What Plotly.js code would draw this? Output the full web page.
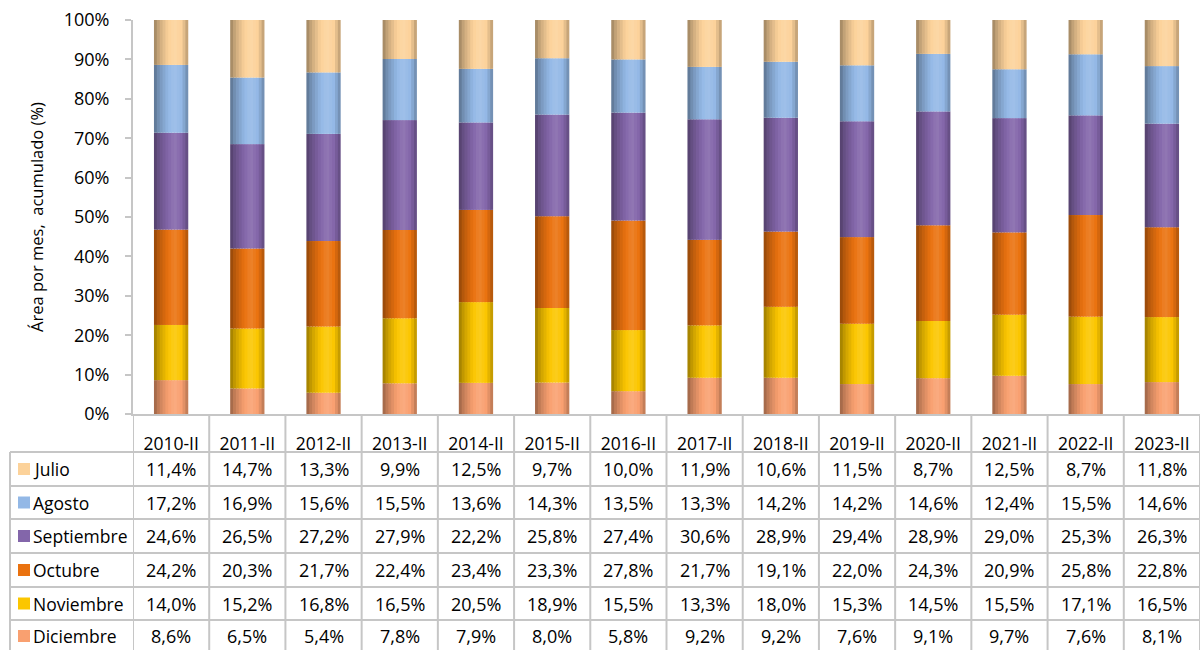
<!DOCTYPE html>
<html>
<head>
<meta charset="utf-8">
<script src="https://cdn.plot.ly/plotly-3.0.1.min.js"></script>
<style>html,body{margin:0;padding:0;background:#fff;}#chart{width:1204px;height:650px;}</style>
</head>
<body>
<div id="chart"></div>
<script>
const categories = ['2010-II','2011-II','2012-II','2013-II','2014-II','2015-II','2016-II','2017-II','2018-II','2019-II','2020-II','2021-II','2022-II','2023-II'];
const months = ['Julio','Agosto','Septiembre','Octubre','Noviembre','Diciembre'];
const julio      = [11.4,14.7,13.3,9.9,12.5,9.7,10.0,11.9,10.6,11.5,8.7,12.5,8.7,11.8];
const agosto     = [17.2,16.9,15.6,15.5,13.6,14.3,13.5,13.3,14.2,14.2,14.6,12.4,15.5,14.6];
const septiembre = [24.6,26.5,27.2,27.9,22.2,25.8,27.4,30.6,28.9,29.4,28.9,29.0,25.3,26.3];
const octubre    = [24.2,20.3,21.7,22.4,23.4,23.3,27.8,21.7,19.1,22.0,24.3,20.9,25.8,22.8];
const noviembre  = [14.0,15.2,16.8,16.5,20.5,18.9,15.5,13.3,18.0,15.3,14.5,15.5,17.1,16.5];
const diciembre  = [8.6,6.5,5.4,7.8,7.9,8.0,5.8,9.2,9.2,7.6,9.1,9.7,7.6,8.1];
const yTicks = [0,10,20,30,40,50,60,70,80,90,100];

const seriesValues = [julio, agosto, septiembre, octubre, noviembre, diciembre];
const colors = ['#fcd29a','#93b8e6','#8366aa','#ea720f','#fbc600','#f9a070'];

// stacking order bottom -> top
const stackOrder = [5,4,3,2,1,0];

function hexToRgb(h){return [parseInt(h.substr(1,2),16),parseInt(h.substr(3,2),16),parseInt(h.substr(5,2),16)];}
function shade(hex,f){
  const c = hexToRgb(hex);
  let r;
  if (f<=1) r = c.map(v=>Math.round(v*f));
  else r = c.map(v=>Math.round(v+(255-v)*(f-1)));
  return 'rgb('+r.join(',')+')';
}
const NS = 12;
function profile(t){
  const pts=[[0,0.62],[0.15,0.8],[0.35,0.95],[0.6,1.12],[0.8,1.0],[0.92,0.85],[1,0.72]];
  for(let k=0;k<pts.length-1;k++){
    if(t>=pts[k][0]&&t<=pts[k+1][0]){
      const u=(t-pts[k][0])/(pts[k+1][0]-pts[k][0]);
      return pts[k][1]+u*(pts[k+1][1]-pts[k][1]);
    }
  }
  return 1;
}
const BW = 0.45;
const traces = [];
const cum = categories.map(()=>0);
stackOrder.forEach(si=>{
  const vals = seriesValues[si];
  const base = cum.slice();
  for(let s=0;s<NS;s++){
    const t=(s+0.5)/NS;
    traces.push({
      type:'bar', x:categories, y:vals, base:base,
      offset: -BW/2 + s*BW/NS, width: BW/NS + (s<NS-1 ? 0.012 : 0),
      marker:{color:shade(colors[si],profile(t)), line:{width:0}},
      name:months[si], showlegend:false, hoverinfo:'skip'
    });
  }
  vals.forEach((v,i)=>{cum[i]+=v;});
});

const L=133, R=1200, T=20, B=414;
const px = x => (x-L)/(R-L);
const py = y => (B-y)/(B-T);
const rowTop = [452,486,519,553,587,620];
const rowBot = [486,519,553,587,620,652];
const lineColor = '#c6c6c6';
const FS = 18;

const shapes=[], annotations=[];
[452,486,519,553,587,620,652].forEach(y=>{
  shapes.push({type:'line',xref:'paper',yref:'paper',x0:px(10),x1:px(1200),y0:py(y),y1:py(y),line:{color:lineColor,width:2}});
});
shapes.push({type:'line',xref:'paper',yref:'paper',x0:px(10),x1:px(10),y0:py(452),y1:py(652),line:{color:lineColor,width:2}});
for(let i=0;i<=categories.length;i++){
  shapes.push({type:'line',xref:'x',yref:'paper',x0:i-0.5,x1:i-0.5,y0:py(414),y1:py(652),line:{color:lineColor,width:2}});
}
months.forEach((m,r)=>{
  const yc = (rowTop[r]+rowBot[r])/2;
  shapes.push({type:'rect',xref:'paper',yref:'paper',x0:px(18),x1:px(30),y0:py(yc-6),y1:py(yc+6),fillcolor:colors[r],line:{width:0}});
  annotations.push({xref:'paper',yref:'paper',x:px(31),y:py(yc),xanchor:'left',yanchor:'middle',showarrow:false,text:m,font:{size:17.5,color:'#000'}});
  seriesValues[r].forEach((v,i)=>{
    annotations.push({xref:'x',yref:'paper',x:categories[i],y:py(yc),xanchor:'center',yanchor:'middle',showarrow:false,
      text:v.toFixed(1).replace('.',',')+'%',font:{size:FS,color:'#000'}});
  });
});

const layout = {
  width:1204, height:650,
  margin:{l:L,r:1204-R,t:T,b:650-B,pad:0},
  paper_bgcolor:'#fff', plot_bgcolor:'#fff',
  barmode:'overlay',
  font:{family:'"Open Sans", "Noto Sans", sans-serif', color:'#000', size:FS},
  xaxis:{type:'category', range:[-0.5,categories.length-0.5], showgrid:false, zeroline:false,
    showline:true, linecolor:lineColor, linewidth:2, ticks:'', ticklabelstandoff:13,
    tickfont:{size:17.5,color:'#000'}, fixedrange:true},
  yaxis:{range:[0,100], tickvals:yTicks, ticktext:yTicks.map(v=>v+'%'), showgrid:false, zeroline:false,
    showline:true, linecolor:lineColor, linewidth:2, ticks:'outside', ticklen:6, tickcolor:lineColor, tickwidth:2,
    ticklabelstandoff:12, tickfont:{size:FS,color:'#000'},
    title:{text:'Área por mes,  acumulado (%)', font:{size:16.5,color:'#000'}, standoff:16}, fixedrange:true},
  shapes:shapes, annotations:annotations, showlegend:false
};
Plotly.newPlot('chart', traces, layout, {displayModeBar:false, staticPlot:true});
</script>
</body>
</html>
